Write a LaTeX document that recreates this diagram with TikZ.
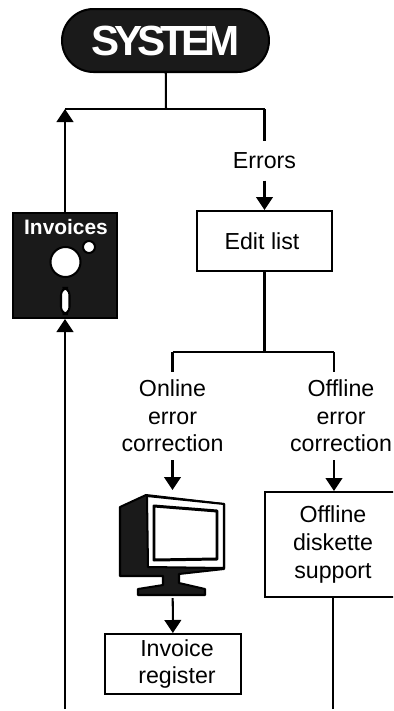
\documentclass[tikz,border=0pt]{standalone}
\usepackage{fontspec}
\setmainfont{Liberation Sans}
\newfontfamily\tightfont[LetterSpace=-12]{Liberation Sans}
\usetikzlibrary{arrows.meta, calc, positioning, shapes.misc}
\definecolor{inkm}{HTML}{1a1a1a}

\begin{document}
\begin{tikzpicture}[x=0.02cm, y=-0.02cm, line width=1.15pt,
            flow/.style={-{Triangle[width=9.5pt, length=7.4pt]}},
            box/.style={draw, rectangle, inner sep=0pt},
            label/.style={align=center, inner sep=0pt}]
        \tikzstyle{every node}=[font=\fontsize{13.2pt}{15.7pt}\selectfont]
        \useasboundingbox (0,0) rectangle (393,711);
        \clip (0,0) rectangle (393,711);

        \node[rounded rectangle, fill=inkm, draw=black, minimum width=4.14cm, minimum height=1.26cm, inner sep=0pt, text=white, font=\tightfont\fontsize{24pt}{26pt}\selectfont\bfseries] (system) at (165.5,40.5) {SYSTEM};
        \node[draw=black, fill=inkm, minimum width=2.08cm, minimum height=2.1cm, inner sep=0pt] (invoices) at (65,265.5) {};
        \node[text=white, inner sep=0pt, font=\fontsize{11.9pt}{14pt}\selectfont\bfseries] (invoicestitle) at (66,227) {Invoices};
        \node[box, minimum width=2.72cm, minimum height=1.2cm] (editlist) at (264.5,241) {};
        \node[label] (editlisttext) at (262,241) {Edit list};
        \node[label, minimum height=0.74cm] (errors) at (264.5,161) {Errors};
        \node[label, minimum height=1.72cm] (online) at (172.5,416) {Online\\error\\correction};
        \node[label, minimum height=1.72cm] (offline) at (341,416) {Offline\\error\\correction};
        \node[minimum width=2.1cm, minimum height=2.12cm, inner sep=0pt] (monitor) at (172.5,544) {};
        \node[box, minimum width=2.72cm, minimum height=1.2cm] (register) at (173,664) {};
        \node[label] (registertext) at (177,664) {Invoice\\register};
        \node[box, align=center, minimum width=2.72cm, minimum height=2.1cm] (diskette) at (333,544.5) {Offline\\diskette\\support};

        \coordinate (jtop) at (166,109);
        \coordinate (jleft) at (65,109);
        \coordinate (jright) at (264.5,109);
        \coordinate (jedit) at (264.5,352);
        \coordinate (jonline) at (172.5,352);
        \coordinate (joffline) at (334,352);
        \coordinate (endleft) at (65,709);
        \coordinate (endright) at (333,709);

        \draw (system) -- (jtop);
        \draw (jleft) -- (jright);
        \draw[flow] (invoices) -- (jleft);
        \draw (jright) -- (errors);
        \draw[flow] (errors) -- (editlist);
        \draw (editlist) -- (jedit);
        \draw (jonline) -- (joffline);
        \draw (jonline) -- (online);
        \draw (joffline) -- (joffline |- offline.north);
        \draw[flow] (online) -- (monitor);
        \draw[flow] (joffline |- offline.south) -- (joffline |- diskette.north);
        \draw[flow] (monitor) -- (register);
        \draw (endright) -- (diskette);
        \draw[flow] (endleft) -- (invoices);

        \fill[white, draw=black] (65.5,262) circle (15);
        \fill[white, draw=black] (89,247) circle (6);
        \fill[white, draw=black, rounded corners=4] (61,288) rectangle (69.5,314);

        \fill[inkm, draw=black, line join=round] (120,507) -- (146,495) -- (224,504) -- (224,569) -- (179,574) -- (179,583) -- (205,589) -- (205,595) -- (138,595) -- (138,589) -- (163,585) -- (163,576) -- (120,576) -- cycle;
        \fill[white, draw=black, line join=round] (147,496) -- (224,504) -- (224,568) -- (148,567) -- cycle;
        \fill[white, draw=black, line width=1.7pt, line join=round] (154,506) -- (217,511) -- (217,559) -- (154,560) -- cycle;
    \end{tikzpicture}
\end{document}
